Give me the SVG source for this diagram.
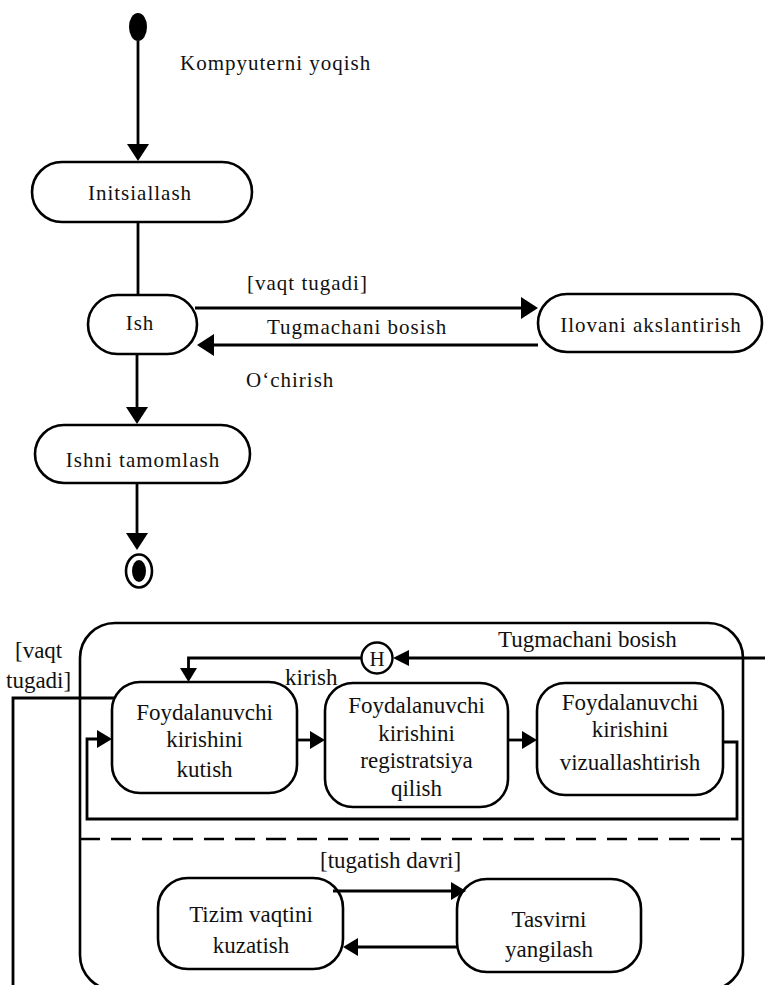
<svg xmlns="http://www.w3.org/2000/svg" width="765" height="985" viewBox="0 0 765 985" font-family="Liberation Serif, Times New Roman, Tinos, Noto Serif, DejaVu Serif, serif">
  <style>
    .st { fill: #fff; stroke: #000; stroke-width: 2.6; }
    .ln { fill: none; stroke: #000; stroke-width: 2.8; }
    .hd { fill: #000; stroke: none; }
    .t1 { font-size: 21px; letter-spacing: 1px; fill: #111; }
    .t2 { font-size: 23px; fill: #111; }
    .mid { text-anchor: middle; }
  </style>
  <rect width="765" height="985" fill="#fff"/>

  <!-- upper state machine: nodes -->
  <g id="start"><ellipse cx="138" cy="27" rx="9" ry="14" fill="#000"/></g>
  <g id="init">
    <rect class="st" x="32" y="162" width="220" height="60" rx="30"/>
    <text class="t1 mid" x="140" y="200" font-family="Liberation Serif">Initsiallash</text>
  </g>
  <g id="ish">
    <rect class="st" x="88" y="295" width="109" height="59" rx="29.5"/>
    <text class="t1 mid" x="140" y="330">Ish</text>
  </g>
  <g id="ilova">
    <rect class="st" x="538" y="294" width="224" height="58" rx="29"/>
    <text class="t1 mid" x="651" y="332">Ilovani akslantirish</text>
  </g>
  <g id="tamom">
    <rect class="st" x="35" y="425" width="215" height="58" rx="29"/>
    <text class="t1 mid" x="143" y="467">Ishni tamomlash</text>
  </g>
  <g id="final">
    <ellipse cx="139" cy="571" rx="13" ry="16.5" fill="#fff" stroke="#000" stroke-width="2.6"/>
    <ellipse cx="139" cy="571" rx="7" ry="11" fill="#000"/>
  </g>

  <!-- upper state machine: transitions -->
  <g id="edges-top">
    <line class="ln" x1="138" y1="41" x2="138" y2="146"/>
    <polygon class="hd" points="127,144 149,144 138,161"/>
    <line class="ln" x1="138" y1="222" x2="138" y2="295"/>
    <line class="ln" x1="195" y1="308" x2="523" y2="308"/>
    <polygon class="hd" points="521,297 521,319 538,308"/>
    <line class="ln" x1="538" y1="345" x2="212" y2="345"/>
    <polygon class="hd" points="214,334 214,356 197,345"/>
    <line class="ln" x1="137" y1="354" x2="137" y2="409"/>
    <polygon class="hd" points="126,407 148,407 137,424"/>
    <line class="ln" x1="137" y1="483" x2="137" y2="535"/>
    <polygon class="hd" points="126,533 148,533 137,550"/>
    <text class="t1" x="180" y="70">Kompyuterni yoqish</text>
    <text class="t1" x="247" y="290">[vaqt tugadi]</text>
    <text class="t1" x="267" y="334">Tugmachani bosish</text>
    <text class="t1" x="246" y="387">O‘chirish</text>
  </g>

  <!-- composite state -->
  <g id="composite">
    <rect x="80" y="623" width="663" height="367" rx="35" fill="none" stroke="#000" stroke-width="2.6"/>
    <line x1="80" y1="839" x2="743" y2="839" stroke="#000" stroke-width="2.6" stroke-dasharray="20 11"/>
  </g>
  <g id="history">
    <circle cx="377" cy="658" r="15.5" fill="#fff" stroke="#000" stroke-width="2.4"/>
    <text class="t2 mid" x="377" y="666" style="font-size:21px">H</text>
  </g>
  <g id="kutish">
    <rect class="st" x="112" y="682" width="185" height="111" rx="28"/>
    <text class="t2 mid" x="204.5" y="720">Foydalanuvchi</text>
    <text class="t2 mid" x="204.5" y="747">kirishini</text>
    <text class="t2 mid" x="204.5" y="777">kutish</text>
  </g>
  <g id="registratsiya">
    <rect class="st" x="325" y="683" width="183" height="124" rx="28"/>
    <text class="t2 mid" x="416.5" y="713">Foydalanuvchi</text>
    <text class="t2 mid" x="416.5" y="741">kirishini</text>
    <text class="t2 mid" x="416.5" y="768">registratsiya</text>
    <text class="t2 mid" x="416.5" y="796">qilish</text>
  </g>
  <g id="vizual">
    <rect class="st" x="537" y="683" width="186" height="112" rx="28"/>
    <text class="t2 mid" x="630" y="710">Foydalanuvchi</text>
    <text class="t2 mid" x="630" y="737">kirishini</text>
    <text class="t2 mid" x="630" y="770">vizuallashtirish</text>
  </g>
  <g id="tizim">
    <rect class="st" x="158" y="878" width="185" height="91" rx="30"/>
    <text class="t2 mid" x="251" y="922">Tizim vaqtini</text>
    <text class="t2 mid" x="251" y="953">kuzatish</text>
  </g>
  <g id="tasvir">
    <rect class="st" x="457" y="879" width="184" height="93" rx="30"/>
    <text class="t2 mid" x="549" y="927">Tasvirni</text>
    <text class="t2 mid" x="549" y="957">yangilash</text>
  </g>

  <!-- composite state: transitions -->
  <g id="edges-bottom">
    <line class="ln" x1="765" y1="658" x2="408" y2="658"/>
    <polygon class="hd" points="409,650 409,666 393,658"/>
    <polyline class="ln" points="361.5,658 188.5,658 188.5,669"/>
    <polygon class="hd" points="180,668 197,668 188.5,682"/>
    <line class="ln" x1="297" y1="740" x2="312" y2="740"/>
    <polygon class="hd" points="310,731 310,749 325,740"/>
    <line class="ln" x1="508" y1="740" x2="524" y2="740"/>
    <polygon class="hd" points="522,731 522,749 537,740"/>
    <polyline class="ln" points="723,742 737,742 737,819 87,819 87,739 99,739"/>
    <polygon class="hd" points="97,730 97,748 112,739"/>
    <line class="ln" x1="333" y1="891" x2="453" y2="891"/>
    <polygon class="hd" points="451,882 451,900 466,891"/>
    <line class="ln" x1="457" y1="947" x2="357" y2="947"/>
    <polygon class="hd" points="358,938 358,956 343,947"/>
    <polyline class="ln" points="115,698 13,698 13,985"/>
    <text class="t2" x="498" y="647">Tugmachani bosish</text>
    <text class="t2" x="285" y="685">kirish</text>
    <text class="t2" x="320" y="868">[tugatish davri]</text>
    <text class="t2" x="15" y="658">[vaqt</text>
    <text class="t2" x="6" y="688">tugadi]</text>
  </g>
</svg>
